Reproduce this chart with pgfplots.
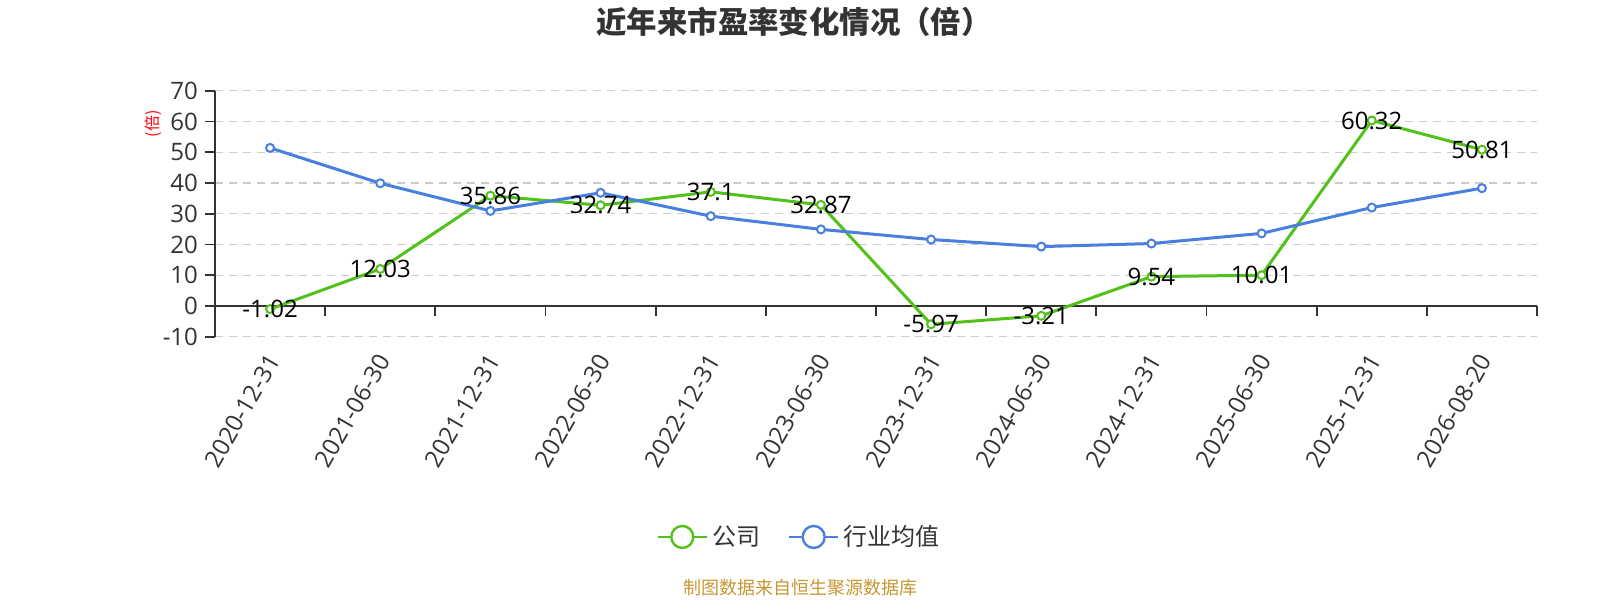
\documentclass[border=0pt]{standalone}
\usepackage{pgfplots}
\pgfplotsset{compat=1.18}
\usepackage{pgfplotstable}
\usepackage{fontspec}
\setmainfont{Open Sans}
\newfontfamily\cjk{Noto Sans CJK SC}
\definecolor{cgreen}{RGB}{82,193,26}
\definecolor{cblue}{RGB}{73,127,223}
\definecolor{ctext}{RGB}{51,51,51}
\definecolor{cgrid}{RGB}{204,204,204}
\definecolor{cfoot}{RGB}{200,150,50}

\pgfplotstableread{
x company label
0 -1.02 -1.02
1 12.03 12.03
2 35.86 35.86
3 32.74 32.74
4 37.1 37.1
5 32.87 32.87
6 -5.97 -5.97
7 -3.21 -3.21
8 9.54 9.54
9 10.01 10.01
10 60.32 60.32
11 50.81 50.81
}\companytable

\pgfplotstableread{
x industry
0 51.4
1 39.9
2 30.9
3 36.8
4 29.2
5 24.9
6 21.6
7 19.3
8 20.3
9 23.6
10 32.0
11 38.3
}\industrytable

\begin{document}
\begin{tikzpicture}[x=1pt,y=1pt]
\useasboundingbox (0,0) rectangle (800,300);
\node[font=\cjk\bfseries\fontsize{15.2}{15.2}\selectfont, text=ctext] at (397,289) {近年来市盈率变化情况（倍）};
\node[font=\cjk\fontsize{8}{8}\selectfont, text=red, rotate=90] at (76.7,238) {(倍)};
\node[font=\cjk\fontsize{9}{9}\selectfont, text=cfoot] at (400,6) {制图数据来自恒生聚源数据库};
\begin{axis}[
  at={(107.5pt,131.65pt)}, anchor=south west,
  scale only axis, width=661pt, height=123pt,
  xmin=-0.5, xmax=11.5, ymin=-10, ymax=70,
  xtick={0,...,11},
  xticklabels={2020-12-31,2021-06-30,2021-12-31,2022-06-30,2022-12-31,2023-06-30,2023-12-31,2024-06-30,2024-12-31,2025-06-30,2025-12-31,2026-08-20},
  ytick={-10,0,...,70},
  tick pos=left,
  axis line style={draw=none},
  ymajorgrids,
  grid style={cgrid, dash pattern=on 4pt off 3pt, line width=0.7pt},
  major x tick style={draw=none},
  major y tick style={ctext, line width=0.9pt},
  tick align=outside, major tick length=5pt,
  /pgf/number format/assume math mode=true,
  yticklabel style={font=\fontsize{12}{12}\selectfont, text=ctext},
  xticklabel style={font=\fontsize{12}{12}\selectfont, text=ctext, rotate=60, anchor=east, yshift=-4pt},
  clip=false,
  legend style={at={(0.4425,-0.814)}, anchor=center, draw=none, fill=none,
     legend columns=2, font=\cjk\fontsize{12}{12}\selectfont, text=ctext,
     /tikz/every even column/.append style={column sep=12pt}},
  legend cell align=left,
  legend image code/.code={
     \draw[line width=1.2pt] (0pt,0pt) -- (24.5pt,0pt);
     \draw[line width=1.2pt, fill=white] (12.25pt,0pt) circle (5.5pt);
  },
]
\draw[ctext, line width=0.9pt] (axis cs:-0.5,-10) -- (axis cs:-0.5,70);
\draw[ctext, line width=0.9pt] (axis cs:-0.5,0) -- (axis cs:11.5,0);
\pgfplotsinvokeforeach{0,...,12}{
  \draw[ctext, line width=0.9pt] (axis cs:#1-0.5,0) -- ([yshift=-5pt]axis cs:#1-0.5,0);
}
\addplot[cgreen, line width=1.5pt, mark=*, mark size=2pt,
   mark options={fill=white, line width=1pt},
   nodes near coords, point meta=explicit symbolic,
   every node near coord/.append style={anchor=center, font=\fontsize{12}{12}\selectfont, text=black}]
   table[x=x, y=company, meta=label] {\companytable};
\addlegendentry{公司}
\addplot[cblue, line width=1.5pt, mark=*, mark size=2pt,
   mark options={fill=white, line width=1pt}]
   table[x=x, y=industry] {\industrytable};
\addlegendentry{行业均值}
\end{axis}
\end{tikzpicture}
\end{document}
